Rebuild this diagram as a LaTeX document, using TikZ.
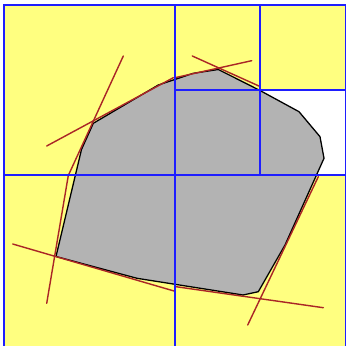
\documentclass[tikz,border=0pt]{standalone}
\usepackage{xcolor}
\usepackage{tikz}
\usetikzlibrary{calc}
\definecolor{cellyellow}{RGB}{255,255,128}
\definecolor{regiongray}{RGB}{179,179,179}
\definecolor{gridblue}{RGB}{30,30,255}
\definecolor{tanred}{RGB}{170,38,38}
\tikzset{
  cell/.style    = {fill=cellyellow},
  hole/.style    = {fill=white},
  region/.style  = {draw=black, fill=regiongray, line width=1.1pt, line join=round},
  gridline/.style= {draw=gridblue, line width=1.6pt},
  tangent/.style = {draw=tanred, line width=1.2pt, line cap=round},
}

\begin{document}
\begin{tikzpicture}[x=0.03cm, y=-0.03cm]
  \useasboundingbox (0,0) rectangle (345,346);

  % --- quadtree cells ---
  \fill[cell] (4,5) rectangle (346,347);
  \fill[hole] (260,90) rectangle (346,175);

  % --- the region ---
  \draw[region] (218.3,69.5) -- (260,90.5) -- (299,111.7) -- (320,136.7)
    -- (324,158.3) -- (285,245) -- (258.3,291.7) -- (243,295)
    -- (137,278.3) -- (56,256.5) -- (81.5,149.5) -- (93.3,123.3)
    -- (158.3,85) -- (193.3,73.3) -- cycle;

  % --- supporting lines ---
  \draw[tangent] (46.7,146) -- (173.3,77.7);
  \draw[tangent] (175,77.7) -- (251.7,60.7);
  \draw[tangent] (192.3,56) -- (260,86.5);
  \draw[tangent] (123.3,56) -- (68.3,175.5);
  \draw[tangent] (68.3,175.5) -- (46.7,303.3);
  \draw[tangent] (12.7,244) -- (174,291);
  \draw[tangent] (176,286.7) -- (323.3,307.7);
  \draw[tangent] (318.3,176.7) -- (247.7,325);

  % --- cell borders ---
  \draw[gridline] (4,5) rectangle (346,347);
  \draw[gridline] (175,5) -- (175,347);
  \draw[gridline] (4,175) -- (346,175);
  \draw[gridline] (260,5) -- (260,175);
  \draw[gridline] (175,90) -- (346,90);
\end{tikzpicture}
\end{document}
